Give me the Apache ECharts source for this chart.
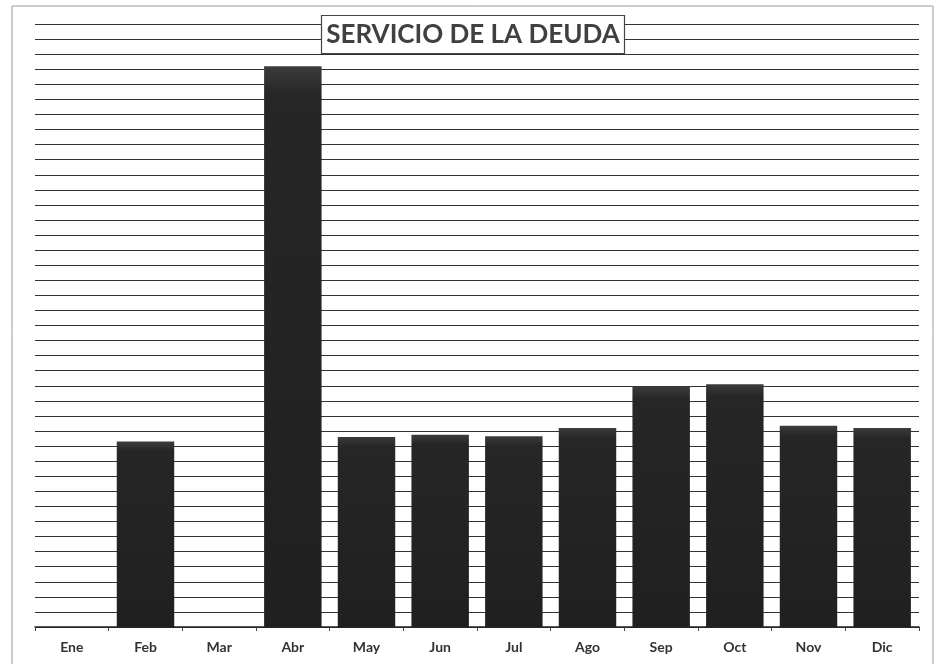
<!DOCTYPE html>
<html>
<head>
<meta charset="utf-8">
<script src="https://cdn.jsdelivr.net/npm/echarts@6/dist/echarts.min.js"></script>
<style>
html,body{margin:0;padding:0;background:#fff;}
#c{width:946px;height:664px;}
</style>
</head>
<body>
<div id="c"></div>
<script>
const categories = ["Ene","Feb","Mar","Abr","May","Jun","Jul","Ago","Sep","Oct","Nov","Dic"];
const values = [0, 12.3, 0, 37.2, 12.6, 12.75, 12.65, 13.2, 15.95, 16.1, 13.35, 13.2];
const titleText = "SERVICIO DE LA DEUDA";

const chart = echarts.init(document.getElementById('c'));
chart.setOption({
  animation: false,
  backgroundColor: '#ffffff',
  title: {
    text: titleText,
    left: 'center',
    top: 15,
    padding: [7, 5, 6, 5],
    borderColor: '#444',
    borderWidth: 1.2,
    backgroundColor: '#ffffff',
    textStyle: {
      fontFamily: 'Lato',
      fontSize: 26,
      fontWeight: 'bold',
      color: '#404040'
    }
  },
  graphic: [{
    type: 'rect',
    z: -10,
    shape: {x: 12, y: 6, width: 921, height: 680},
    style: {fill: 'none', stroke: '#9a9a9a', lineWidth: 1}
  }],
  grid: {left: 35, right: 27, top: 24, bottom: 37},
  xAxis: {
    type: 'category',
    data: categories,
    axisLine: {lineStyle: {color: '#222', width: 1.5}},
    axisTick: {show: true, length: 4, lineStyle: {color: '#444'}},
    axisLabel: {
      margin: 13,
      fontFamily: 'Lato',
      fontSize: 14,
      fontWeight: 'bold',
      color: '#333'
    }
  },
  yAxis: {
    type: 'value',
    min: 0,
    max: 40,
    interval: 1,
    axisLine: {show: false},
    axisTick: {show: false},
    axisLabel: {show: false},
    splitLine: {lineStyle: {color: '#333', width: 1.2}}
  },
  series: [{
    type: 'bar',
    data: values,
    barCategoryGap: '22%',
    itemStyle: {
      color: new echarts.graphic.LinearGradient(0, 0, 0, 1, [
        {offset: 0, color: '#3c3c3c'},
        {offset: 0.05, color: '#262626'},
        {offset: 1, color: '#202020'}
      ])
    }
  }]
});
</script>
</body>
</html>
